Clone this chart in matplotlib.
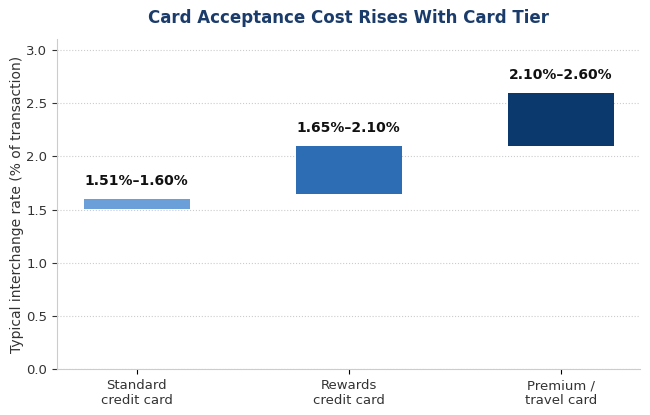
import numpy as np
import matplotlib
matplotlib.use("Agg")
import matplotlib.pyplot as plt

categories = ["Standard\ncredit card", "Rewards\ncredit card", "Premium /\ntravel card"]
low = [1.51, 1.65, 2.10]
high = [1.60, 2.10, 2.60]
labels = ["1.51%–1.60%", "1.65%–2.10%", "2.10%–2.60%"]
colors = ["#6a9fda", "#2c6db3", "#0b396d"]

fig, ax = plt.subplots(figsize=(6.5, 4.15), dpi=100)
x = np.arange(len(categories))
heights = np.array(high) - np.array(low)
ax.bar(x, heights, bottom=low, width=0.5, color=colors, zorder=3)

for xi, hi, lab in zip(x, high, labels):
    ax.annotate(lab, (xi, hi), xytext=(0, 8), textcoords="offset points",
                ha="center", va="bottom", fontsize=10, fontweight="bold", color="#111111")

ax.set_ylim(0, 3.1)
ax.set_xticks(x)
ax.set_xticklabels(categories, fontsize=9.5, color="#333333")
ax.tick_params(axis="y", labelsize=9.5, colors="#333333")
ax.set_ylabel("Typical interchange rate (% of transaction)", fontsize=10, color="#333333",
              labelpad=2)
ax.set_title("Card Acceptance Cost Rises With Card Tier", fontsize=12, fontweight="bold",
             color="#1b3c6b", pad=12)
ax.yaxis.grid(True, linestyle=":", color="#cccccc", linewidth=0.8, zorder=0)
ax.set_axisbelow(True)
for s in ["top", "right"]:
    ax.spines[s].set_visible(False)
for s in ["left", "bottom"]:
    ax.spines[s].set_color("#cccccc")

fig.subplots_adjust(left=0.088, right=0.985, bottom=0.11, top=0.905)
fig.savefig("out.png", dpi=100)
